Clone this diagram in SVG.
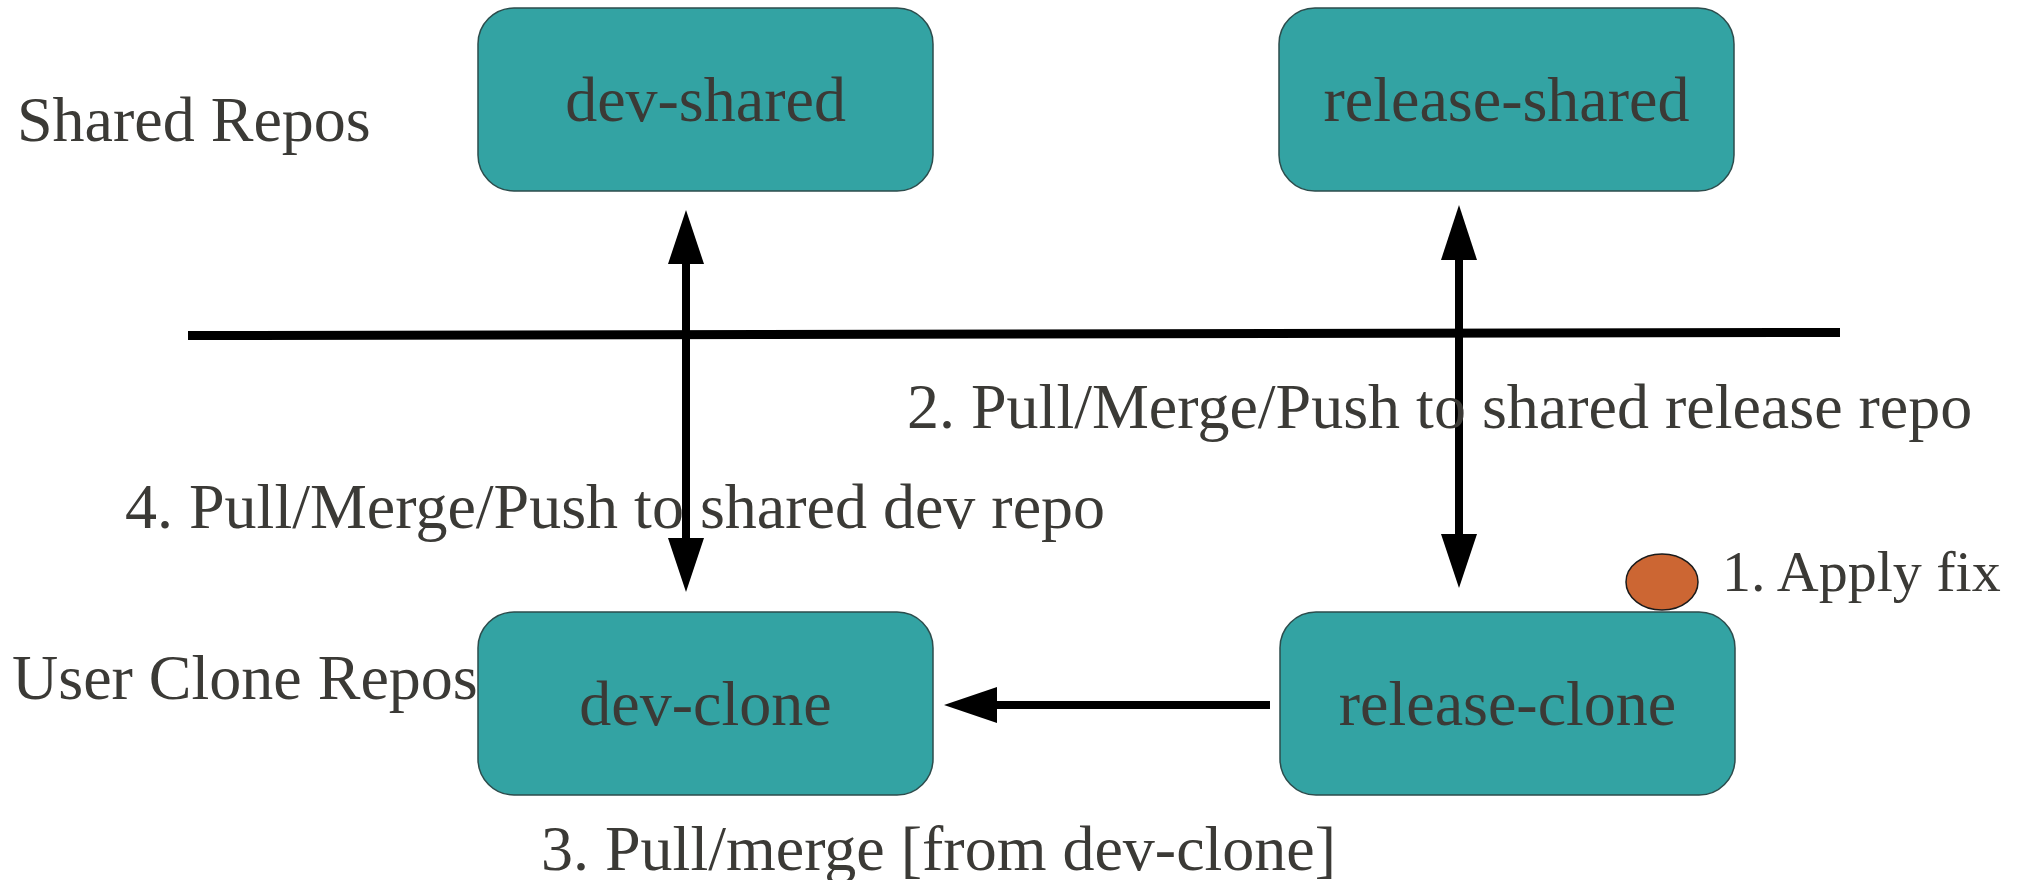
<svg xmlns="http://www.w3.org/2000/svg" width="2024" height="880" viewBox="0 0 2024 880">
  <style>
    .repo rect { fill: #33a3a3; stroke: #2c4c4c; stroke-width: 1.5; }
    text { font-family: "Liberation Serif", "Times New Roman", serif; font-size: 64px; fill: #3b3a36; }
    .name { text-anchor: middle; }
    .link { stroke: #000; stroke-width: 8; fill: none; }
    .head { fill: #000; }
  </style>
  <rect width="2024" height="880" fill="#ffffff"/>

  <!-- tier labels -->
  <g id="tier-labels">
    <text x="17" y="141">Shared Repos</text>
    <text x="12" y="699">User Clone Repos</text>
  </g>

  <!-- divider between shared and clone repos -->
  <line x1="188" y1="335.5" x2="1840" y2="332.5" stroke="#000" stroke-width="9"/>

  <!-- repositories -->
  <g id="dev-shared" class="repo">
    <rect x="478" y="8" width="455" height="183" rx="36" ry="36"/>
    <text class="name" x="705.5" y="121">dev-shared</text>
  </g>
  <g id="release-shared" class="repo">
    <rect x="1279" y="8" width="455" height="183" rx="36" ry="36"/>
    <text class="name" x="1506.5" y="121">release-shared</text>
  </g>
  <g id="dev-clone" class="repo">
    <rect x="478" y="612" width="455" height="183" rx="36" ry="36"/>
    <text class="name" x="705.5" y="725">dev-clone</text>
  </g>
  <g id="release-clone" class="repo">
    <rect x="1280" y="612" width="455" height="183" rx="36" ry="36"/>
    <text class="name" x="1507.5" y="725">release-clone</text>
  </g>

  <!-- fix marker -->
  <g id="apply-fix">
    <ellipse cx="1662" cy="582" rx="36" ry="28" fill="#cc6633" stroke="#1a1a1a" stroke-width="1.5"/>
    <text x="1722" y="591" style="font-size:58px">1. Apply fix</text>
  </g>

  <!-- connectors -->
  <g id="connectors">
    <!-- dev-clone <-> dev-shared -->
    <line class="link" x1="686" y1="258" x2="686" y2="544"/>
    <polygon class="head" points="686,210 704,264 668,264"/>
    <polygon class="head" points="686,592 704,538 668,538"/>
    <!-- release-clone <-> release-shared -->
    <line class="link" x1="1459" y1="254" x2="1459" y2="540"/>
    <polygon class="head" points="1459,205 1477,260 1441,260"/>
    <polygon class="head" points="1459,588 1477,534 1441,534"/>
    <!-- release-clone -> dev-clone -->
    <line class="link" x1="991" y1="705" x2="1270" y2="705"/>
    <polygon class="head" points="944,705 997,687 997,723"/>
  </g>

  <!-- step labels -->
  <g id="step-labels">
    <text x="907" y="428">2. Pull/Merge/Push to shared release repo</text>
    <text x="125" y="528">4. Pull/Merge/Push to shared dev repo</text>
    <text x="541" y="870">3. Pull/merge [from dev-clone]</text>
  </g>
</svg>
